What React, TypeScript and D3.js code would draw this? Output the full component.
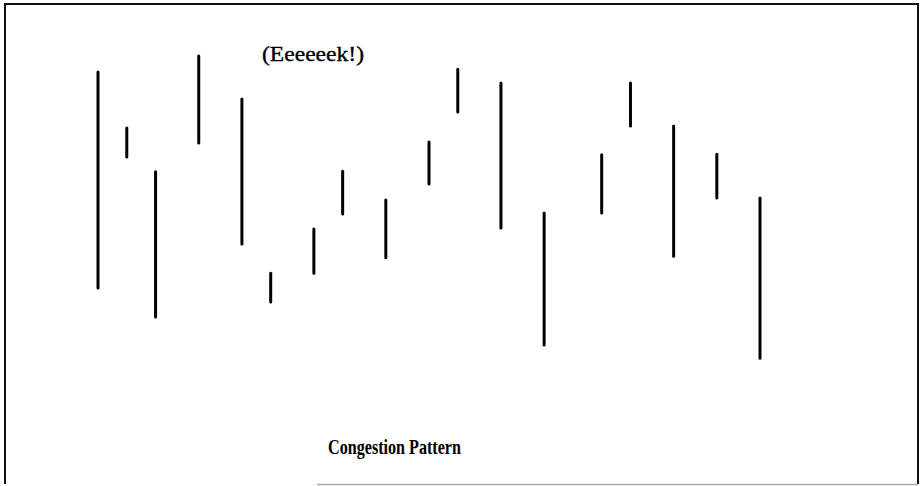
import React, { useEffect, useRef } from "react";
import * as d3 from "d3";

// session index of each bar (time axis)
const sessions = [0, 2, 4, 7, 10, 12, 15, 17, 20, 23, 25, 28, 31, 35, 37, 40, 43, 46];
const highs = [91.8, 75.3, 62.4, 96.5, 83.8, 32.6, 45.6, 62.6, 54.1, 71.2, 92.6, 88.5, 50.3, 67.4, 88.5, 75.9, 67.6, 54.7];
const lows = [28.2, 66.8, 19.7, 70.9, 41.2, 24.1, 32.6, 50.0, 37.1, 58.8, 80.0, 45.9, 11.5, 50.3, 75.9, 37.6, 54.7, 7.6];

const note = "(Eeeeeek!)";
const title = "Congestion Pattern";

const App = () => {
  const svgRef = useRef<SVGSVGElement | null>(null);
  const width = 922;
  const height = 486;

  useEffect(() => {
    const svg = d3.select(svgRef.current).attr("width", width).attr("height", height);
    svg.selectAll("*").remove();

    svg.append("rect").attr("width", width).attr("height", height).attr("fill", "#fff");

    const data = sessions.map((s, i) => ({ s, hi: highs[i], lo: lows[i] }));

    const xScale = d3.scaleLinear().domain([0, 46]).range([98, 760]);
    const yScale = d3.scaleLinear().domain([0, 100]).range([384, 44]);

    // frame
    svg
      .append("path")
      .attr("d", "M5,484 L5,4 L918,4 L918,484")
      .attr("fill", "none")
      .attr("stroke", "#111")
      .attr("stroke-width", 2);
    svg
      .append("line")
      .attr("x1", 317)
      .attr("x2", 918)
      .attr("y1", 484.5)
      .attr("y2", 484.5)
      .attr("stroke", "#aaa")
      .attr("stroke-width", 1.5);

    svg
      .append("g")
      .selectAll("line")
      .data(data)
      .enter()
      .append("line")
      .attr("x1", (d) => xScale(d.s))
      .attr("x2", (d) => xScale(d.s))
      .attr("y1", (d) => yScale(d.hi))
      .attr("y2", (d) => yScale(d.lo))
      .attr("stroke", "#000")
      .attr("stroke-width", 3)
      .attr("stroke-linecap", "round");

    svg
      .append("text")
      .attr("x", 262)
      .attr("y", 61)
      .attr("font-family", "'Liberation Serif', 'Times New Roman', serif")
      .attr("font-size", 21)
      .attr("fill", "#000")
      .attr("stroke", "#000")
      .attr("stroke-width", 0.35)
      .attr("textLength", 102)
      .attr("lengthAdjust", "spacingAndGlyphs")
      .text(note);

    svg
      .append("text")
      .attr("x", 328)
      .attr("y", 454)
      .attr("font-family", "'Liberation Serif', 'Times New Roman', serif")
      .attr("font-weight", "bold")
      .attr("font-size", 21)
      .attr("fill", "#000")
      .attr("textLength", 133)
      .attr("lengthAdjust", "spacingAndGlyphs")
      .text(title);
  }, []);

  return <svg ref={svgRef} style={{ position: "absolute", left: 0, top: 0, display: "block" }}></svg>;
};

export default App;
